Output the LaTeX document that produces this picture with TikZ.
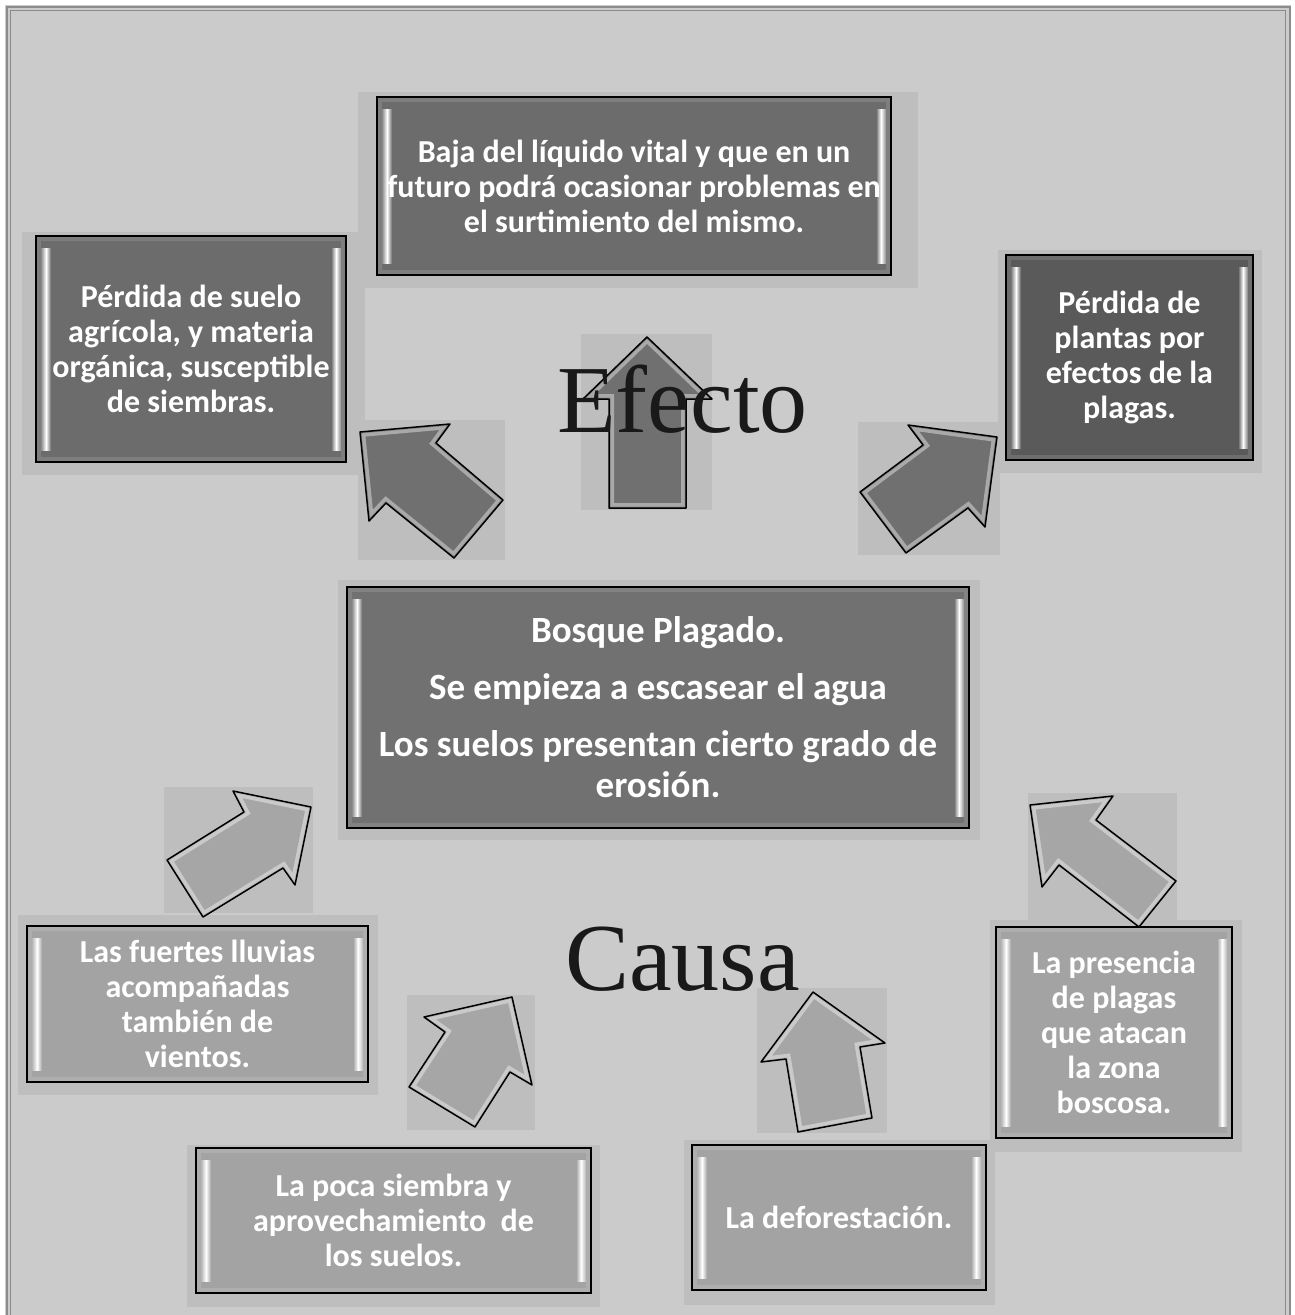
\documentclass[tikz,border=0pt]{standalone}
\usepackage{fontspec}
\setmainfont{Liberation Serif}
\newfontfamily\boxfont{Carlito}
\definecolor{pagegray}{HTML}{CBCBCB}
\definecolor{shadowgray}{HTML}{BEBEBE}
\definecolor{framegray}{HTML}{8C8C8C}
\definecolor{effectgray}{HTML}{6C6C6C}
\definecolor{plantgray}{HTML}{5A5A5A}
\definecolor{coregray}{HTML}{717171}
\definecolor{causegray}{HTML}{A3A3A3}
\definecolor{arrowdark}{HTML}{707070}
\definecolor{arrowlight}{HTML}{A6A6A6}

% glossy block arrow: #1 fill colour, #2 outline
\newcommand\glossyarrow[2]{%
  \begin{scope}
    \clip #2;
    \fill[#1] #2;
    \draw[line width=10pt, #1!60!white] #2;
    \draw[line width=3pt, #1!85!white] #2;
  \end{scope}
  \draw[line width=1.5pt, line join=round] #2;
}

\begin{document}
\begin{tikzpicture}[x=1pt,y=-1pt,
  bevelbox/.style={draw=black, line width=1.5pt, fill=#1, text=white,
    align=center, inner sep=0pt,
    font=\boxfont\bfseries\fontsize{32}{35}\selectfont,
    path picture={
      \draw[line width=10pt, #1!88!white]
        (path picture bounding box.south west) rectangle (path picture bounding box.north east);
      \shade[left color=#1!80!white, right color=white]
        ([xshift=5pt,yshift=-12pt]path picture bounding box.north west)
        rectangle ([xshift=10pt,yshift=12pt]path picture bounding box.south west);
      \shade[left color=white, right color=#1]
        ([xshift=10pt,yshift=-12pt]path picture bounding box.north west)
        rectangle ([xshift=15pt,yshift=12pt]path picture bounding box.south west);
      \shade[left color=#1, right color=white]
        ([xshift=-15pt,yshift=-12pt]path picture bounding box.north east)
        rectangle ([xshift=-10pt,yshift=12pt]path picture bounding box.south east);
      \shade[left color=white, right color=#1!80!white]
        ([xshift=-10pt,yshift=-12pt]path picture bounding box.north east)
        rectangle ([xshift=-5pt,yshift=12pt]path picture bounding box.south east);
    }},
  bigword/.style={font=\fontsize{96}{96}\selectfont, text=black!90, inner sep=0pt}]
\clip (0,0) rectangle (1295,1315);
\fill[white] (0,0) rectangle (1295,1315);
% frame
\fill[pagegray] (5,5) rectangle (1291,1330);
\draw[framegray, line width=2pt] (6.5,6.5) rectangle (1289.5,1330);
\draw[framegray, line width=1.5pt] (10.5,10.5) rectangle (1285.5,1330);

% shadows behind boxes and arrows
\fill[shadowgray] (358,92) rectangle (918,288);
\fill[shadowgray] (22,232) rectangle (365,475);
\fill[shadowgray] (998,250) rectangle (1262,473);
\fill[shadowgray] (338,580) rectangle (980,840);
\fill[shadowgray] (18,915) rectangle (378,1095);
\fill[shadowgray] (187,1145) rectangle (600,1307);
\fill[shadowgray] (684,1140) rectangle (995,1305);
\fill[shadowgray] (990,920) rectangle (1242,1152);
\fill[shadowgray] (358,420) rectangle (505,560);
\fill[shadowgray] (581,334) rectangle (712,510);
\fill[shadowgray] (858,422) rectangle (1000,555);
\fill[shadowgray] (164,787) rectangle (313,913);
\fill[shadowgray] (407,995) rectangle (535,1130);
\fill[shadowgray] (757,988) rectangle (887,1133);
\fill[shadowgray] (1028,793) rectangle (1177,925);

% effect boxes
\node[bevelbox=effectgray, minimum width=514pt, minimum height=178pt] (liquido) at (634,186)
  {Baja del líquido vital y que en un\\futuro podrá ocasionar problemas en\\el surtimiento del mismo.};
\node[bevelbox=effectgray, minimum width=310pt, minimum height=226pt] (suelo) at (191,349)
  {Pérdida de suelo\\agrícola, y materia\\orgánica, susceptible\\de siembras.};
\node[bevelbox=plantgray, minimum width=247pt, minimum height=205pt] (plantas) at (1129.5,357.5)
  {Pérdida de\\plantas por\\efectos de la\\plagas.};

% central box
\node[bevelbox=coregray, minimum width=622pt, minimum height=241pt,
  font=\boxfont\bfseries\fontsize{37}{41}\selectfont] (bosque) at (658,707.5)
  {Bosque Plagado.\\[16pt]Se empieza a escasear el agua\\[16pt]Los suelos presentan cierto grado de\\erosión.};

% cause boxes
\node[bevelbox=causegray, minimum width=341pt, minimum height=156pt] (lluvias) at (197.5,1004)
  {Las fuertes lluvias\\acompañadas\\también de\\vientos.};
\node[bevelbox=causegray, minimum width=395pt, minimum height=145pt] (siembra) at (393.5,1220.5)
  {La poca siembra y\\aprovechamiento\ \ de\\los suelos.};
\node[bevelbox=causegray, minimum width=294pt, minimum height=145pt] (defo) at (839,1217.5)
  {La deforestación.};
\node[bevelbox=causegray, minimum width=236pt, minimum height=211pt] (plagas) at (1114,1032.5)
  {La presencia\\de plagas\\que atacan\\la zona\\boscosa.};

% arrows
\glossyarrow{arrowdark}{(360,432) -- (450,424) -- (436,443) -- (503,500) -- (454,558) -- (386,503) -- (369,521) -- cycle}
\glossyarrow{arrowdark}{(647,337) -- (712,399) -- (686,399) -- (686,508) -- (609,508) -- (609,399) -- (583,399) -- cycle}
\glossyarrow{arrowdark}{(997,437) -- (908,425) -- (923,445) -- (860,492) -- (906,553) -- (968,508) -- (985,527) -- cycle}
\glossyarrow{arrowlight}{(311,807) -- (233,791) -- (244,812) -- (167,860) -- (203,917) -- (283,868) -- (295,885) -- cycle}
\glossyarrow{arrowlight}{(512,997) -- (424,1017) -- (445,1032) -- (409,1087) -- (475,1127) -- (510,1072) -- (532,1085) -- cycle}
\glossyarrow{arrowlight}{(813,992) -- (885,1043) -- (860,1047) -- (872,1118) -- (798,1132) -- (786,1059) -- (761,1062) -- cycle}
\glossyarrow{arrowlight}{(1030,805) -- (1113,796) -- (1096,820) -- (1176,881) -- (1139,927) -- (1059,865) -- (1042,887) -- cycle}

% big words
\node[bigword, anchor=base west] (efecto) at (557,432) {Efecto};
\node[bigword, anchor=base west] (causa) at (565,990) {Causa};
\end{tikzpicture}
\end{document}
